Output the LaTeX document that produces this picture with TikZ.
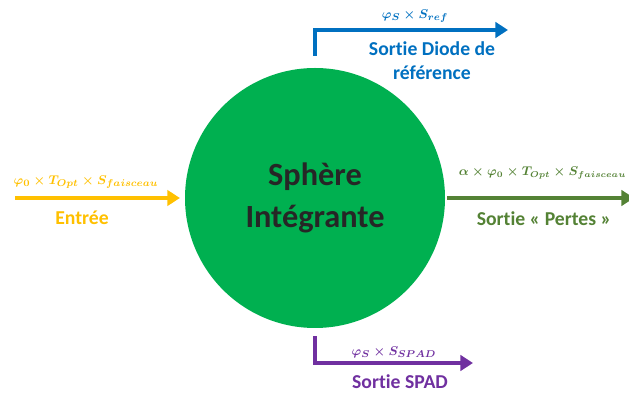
\documentclass[tikz,border=0pt]{standalone}
\usepackage{amsmath,amssymb}
\usepackage{fontspec}
\setsansfont[Ligatures=CommonOff]{Carlito}
\usepackage{xcolor}
\usetikzlibrary{arrows.meta,positioning,calc}
\definecolor{entreecolor}{RGB}{255,192,0}
\definecolor{refcolor}{RGB}{0,112,192}
\definecolor{pertecolor}{RGB}{84,130,53}
\definecolor{spadcolor}{RGB}{112,48,160}
\definecolor{spherecolor}{RGB}{0,176,80}

\begin{document}
\begin{tikzpicture}[
  arr/.style={-{Triangle[length=9pt,width=11pt]}, line width=3pt, #1},
  frm/.style={font=\fontsize{9.5}{12}\selectfont, text=#1},
  lbl/.style={font=\fontsize{14}{17}\selectfont\sffamily\bfseries, text=#1, align=center}
]
  \useasboundingbox (0,0) rectangle (15.725,9.9);

  % Integrating sphere
  \node[circle, fill=spherecolor, minimum size=6.5cm, inner sep=0pt,
        font=\fontsize{23}{30}\selectfont\sffamily\bfseries, text=black!85, align=center]
        (sphere) at (7.875,4.95) {Sphère\\Intégrante};

  % Free ends of the arrows
  \coordinate (in) at (0.375,4.95);
  \coordinate (loss) at (15.85,4.95);
  \coordinate (ref) at (12.7,9.15);
  \coordinate (spad) at (11.825,0.825);

  % Arrows
  \draw[arr=entreecolor] (in) -- ([xshift=-0.12cm]sphere.west);
  \draw[arr=pertecolor] ([xshift=0.05cm]sphere.east) -- (loss);
  \draw[arr=refcolor] ([yshift=0.3cm]sphere.north) |- (ref);
  \draw[arr=spadcolor] ([yshift=-0.2cm]sphere.south) |- (spad);

  % Input labels
  \node[frm=entreecolor] (influx) at (2.15,5.35)
    {$\boldsymbol{\varphi_0\times T_{Opt}\times S_{faisceau}}$};
  \node[lbl=entreecolor] (inname) at (2.05,4.45) {Entrée};

  % Reference diode labels
  \node[frm=refcolor] (refflux) at (10.375,9.5) {$\boldsymbol{\varphi_S\times S_{ref}}$};
  \node[lbl=refcolor] (refname) at (10.8,8.375) {Sortie Diode de\\référence};

  % Loss labels
  \node[frm=pertecolor, anchor=west, font=\fontsize{9.2}{12}\selectfont] (lossflux) at (11.35,5.575)
    {$\boldsymbol{\alpha\times\varphi_0\times T_{Opt}\times S_{faisceau}}$};
  \node[lbl=pertecolor] (lossname) at (13.6,4.425) {Sortie «~Pertes~»};

  % SPAD labels
  \node[frm=spadcolor] (spadflux) at (9.85,1.1) {$\boldsymbol{\varphi_S\times S_{SPAD}}$};
  \node[lbl=spadcolor] (spadname) at (10.0,0.35) {Sortie SPAD};

\end{tikzpicture}
\end{document}
